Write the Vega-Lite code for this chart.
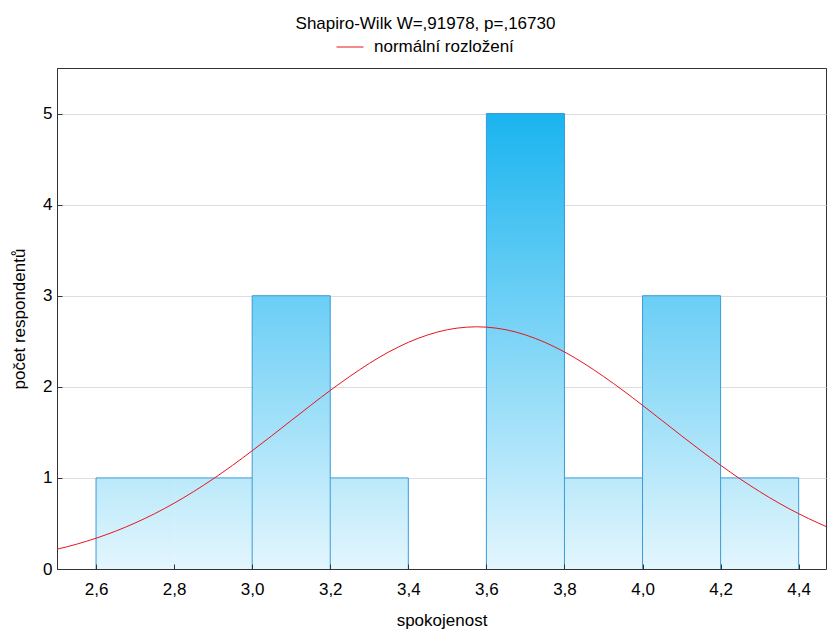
{
  "$schema": "https://vega.github.io/schema/vega-lite/v6.json",
  "width": 769,
  "height": 501,
  "autosize": {"type": "none"},
  "padding": {"left": 57, "top": 68, "right": 1, "bottom": 64},
  "background": "white",
  "config": {"font": "Liberation Sans", "view": {"stroke": "#333333", "strokeWidth": 1}},
  "title": {"text": "Shapiro-Wilk W=,91978, p=,16730", "fontSize": 17, "fontWeight": "normal", "font": "Liberation Sans", "color": "#000000", "anchor": "middle", "dx": -16, "offset": -13, "baseline": "alphabetic"},
  "datasets": {
    "bins": [
      {"start": 2.6, "end": 2.8, "count": 1},
      {"start": 2.8, "end": 3.0, "count": 1},
      {"start": 3.0, "end": 3.2, "count": 3},
      {"start": 3.2, "end": 3.4, "count": 1},
      {"start": 3.4, "end": 3.6, "count": 0},
      {"start": 3.6, "end": 3.8, "count": 5},
      {"start": 3.8, "end": 4.0, "count": 1},
      {"start": 4.0, "end": 4.2, "count": 3},
      {"start": 4.2, "end": 4.4, "count": 1}
    ],
    "edges": [
      {"x": 2.6, "h": 1}, {"x": 3.0, "h": 3}, {"x": 3.2, "h": 3}, {"x": 3.4, "h": 1},
      {"x": 3.6, "h": 5}, {"x": 3.8, "h": 5}, {"x": 4.0, "h": 3}, {"x": 4.2, "h": 3}, {"x": 4.4, "h": 1}
    ],
    "curve": [
      {"x": 2.5, "y": 0.217, "series": "normální rozložení"},
      {"x": 2.55, "y": 0.272, "series": "normální rozložení"},
      {"x": 2.6, "y": 0.338, "series": "normální rozložení"},
      {"x": 2.65, "y": 0.415, "series": "normální rozložení"},
      {"x": 2.7, "y": 0.505, "series": "normální rozložení"},
      {"x": 2.75, "y": 0.607, "series": "normální rozložení"},
      {"x": 2.8, "y": 0.722, "series": "normální rozložení"},
      {"x": 2.85, "y": 0.85, "series": "normální rozložení"},
      {"x": 2.9, "y": 0.989, "series": "normální rozložení"},
      {"x": 2.95, "y": 1.139, "series": "normální rozložení"},
      {"x": 3.0, "y": 1.298, "series": "normální rozložení"},
      {"x": 3.05, "y": 1.462, "series": "normální rozložení"},
      {"x": 3.1, "y": 1.63, "series": "normální rozložení"},
      {"x": 3.15, "y": 1.797, "series": "normální rozložení"},
      {"x": 3.2, "y": 1.96, "series": "normální rozložení"},
      {"x": 3.25, "y": 2.114, "series": "normální rozložení"},
      {"x": 3.3, "y": 2.257, "series": "normální rozložení"},
      {"x": 3.35, "y": 2.383, "series": "normální rozložení"},
      {"x": 3.4, "y": 2.488, "series": "normální rozložení"},
      {"x": 3.45, "y": 2.57, "series": "normální rozložení"},
      {"x": 3.5, "y": 2.627, "series": "normální rozložení"},
      {"x": 3.55, "y": 2.655, "series": "normální rozložení"},
      {"x": 3.575, "y": 2.659, "series": "normální rozložení"},
      {"x": 3.6, "y": 2.655, "series": "normální rozložení"},
      {"x": 3.65, "y": 2.627, "series": "normální rozložení"},
      {"x": 3.7, "y": 2.57, "series": "normální rozložení"},
      {"x": 3.75, "y": 2.488, "series": "normální rozložení"},
      {"x": 3.8, "y": 2.383, "series": "normální rozložení"},
      {"x": 3.85, "y": 2.257, "series": "normální rozložení"},
      {"x": 3.9, "y": 2.114, "series": "normální rozložení"},
      {"x": 3.95, "y": 1.96, "series": "normální rozložení"},
      {"x": 4.0, "y": 1.797, "series": "normální rozložení"},
      {"x": 4.05, "y": 1.63, "series": "normální rozložení"},
      {"x": 4.1, "y": 1.462, "series": "normální rozložení"},
      {"x": 4.15, "y": 1.298, "series": "normální rozložení"},
      {"x": 4.2, "y": 1.139, "series": "normální rozložení"},
      {"x": 4.25, "y": 0.989, "series": "normální rozložení"},
      {"x": 4.3, "y": 0.85, "series": "normální rozložení"},
      {"x": 4.35, "y": 0.722, "series": "normální rozložení"},
      {"x": 4.4, "y": 0.607, "series": "normální rozložení"},
      {"x": 4.45, "y": 0.505, "series": "normální rozložení"},
      {"x": 4.47, "y": 0.467, "series": "normální rozložení"}
    ]
  },
  "layer": [
    {
      "data": {"name": "bins"},
      "transform": [{"filter": "datum.count == 1"}],
      "mark": {"type": "rect", "fill": {"gradient": "linear", "x1": 0, "y1": 1, "x2": 0, "y2": 0, "stops": [{"offset": 0, "color": "#e3f6fd"}, {"offset": 1, "color": "#bbe9fa"}]}},
      "encoding": {
        "x": {"field": "start", "type": "quantitative", "title": "spokojenost",
          "scale": {"domain": [2.5, 4.47], "nice": false, "zero": false},
          "axis": {"values": [2.6, 2.8, 3.0, 3.2, 3.4, 3.6, 3.8, 4.0, 4.2, 4.4],
            "labelExpr": "replace(format(datum.value, '.1f'), '.', ',')",
            "tickSize": -5, "tickColor": "#333333", "domainColor": "#333333", "grid": false,
            "labelFontSize": 17, "labelColor": "#000000", "labelPadding": 17, "labelFont": "Liberation Sans",
            "titleFontSize": 17, "titleFontWeight": "normal", "titleColor": "#000000", "titlePadding": 15, "titleFont": "Liberation Sans",
            "zindex": 1}},
        "x2": {"field": "end"},
        "y": {"field": "count", "type": "quantitative", "title": "počet respondentů",
          "scale": {"domain": [0, 5.5], "nice": false},
          "axis": {"values": [0, 1, 2, 3, 4, 5], "format": "d", "tickSize": -5, "tickColor": "#333333", "domainColor": "#333333",
            "grid": true, "gridColor": "#dddddd",
            "labelFontSize": 17, "labelColor": "#000000", "labelPadding": 10, "labelFont": "Liberation Sans",
            "titleFontSize": 17, "titleFontWeight": "normal", "titleColor": "#000000", "titlePadding": 14, "titleFont": "Liberation Sans",
            "zindex": 0}},
        "y2": {"datum": 0}
      }
    },
    {
      "data": {"name": "bins"},
      "transform": [{"filter": "datum.count == 3"}],
      "mark": {"type": "rect", "fill": {"gradient": "linear", "x1": 0, "y1": 1, "x2": 0, "y2": 0, "stops": [{"offset": 0, "color": "#e3f6fd"}, {"offset": 1, "color": "#6acef5"}]}},
      "encoding": {
        "x": {"field": "start", "type": "quantitative", "title": "spokojenost"},
        "x2": {"field": "end"},
        "y": {"field": "count", "type": "quantitative", "title": "počet respondentů"},
        "y2": {"datum": 0}
      }
    },
    {
      "data": {"name": "bins"},
      "transform": [{"filter": "datum.count == 5"}],
      "mark": {"type": "rect", "fill": {"gradient": "linear", "x1": 0, "y1": 1, "x2": 0, "y2": 0, "stops": [{"offset": 0, "color": "#e3f6fd"}, {"offset": 1, "color": "#1ab4f0"}]}},
      "encoding": {
        "x": {"field": "start", "type": "quantitative", "title": "spokojenost"},
        "x2": {"field": "end"},
        "y": {"field": "count", "type": "quantitative", "title": "počet respondentů"},
        "y2": {"datum": 0}
      }
    },
    {
      "data": {"name": "bins"},
      "transform": [{"filter": "datum.count > 0"}],
      "mark": {"type": "rule", "color": "#3a9ad8", "strokeWidth": 1},
      "encoding": {
        "x": {"field": "start", "type": "quantitative", "title": "spokojenost"},
        "x2": {"field": "end"},
        "y": {"field": "count", "type": "quantitative", "title": "počet respondentů"}
      }
    },
    {
      "data": {"name": "edges"},
      "mark": {"type": "rule", "color": "#3a9ad8", "strokeWidth": 1},
      "encoding": {
        "x": {"field": "x", "type": "quantitative", "title": "spokojenost"},
        "y": {"field": "h", "type": "quantitative", "title": "počet respondentů"},
        "y2": {"datum": 0}
      }
    },
    {
      "data": {"name": "curve"},
      "mark": {"type": "line", "strokeWidth": 1, "clip": true, "interpolate": "monotone"},
      "encoding": {
        "x": {"field": "x", "type": "quantitative", "title": "spokojenost"},
        "y": {"field": "y", "type": "quantitative", "title": "počet respondentů"},
        "color": {"field": "series", "type": "nominal", "scale": {"range": ["#e8141c"]},
          "legend": {"orient": "none", "legendX": 279, "legendY": -35, "title": null, "symbolType": "stroke",
            "symbolSize": 729, "symbolStrokeWidth": 1, "labelFontSize": 17, "labelColor": "#000000",
            "labelOffset": 10, "padding": 0, "direction": "horizontal", "labelFont": "Liberation Sans"}}
      }
    }
  ]
}
